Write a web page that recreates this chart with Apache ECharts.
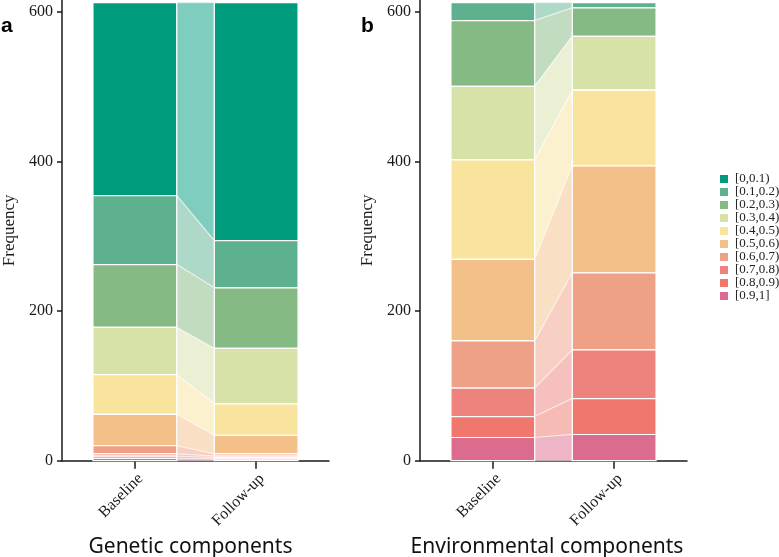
<!DOCTYPE html>
<html>
<head>
<meta charset="utf-8">
<script src="https://cdn.jsdelivr.net/npm/echarts@6/dist/echarts.min.js"></script>
<style>
html,body{margin:0;padding:0;background:#fff;}
#chart{width:779px;height:557px;}
</style>
</head>
<body>
<div id="chart"></div>
<script>
// ---- data ----
const bins = ['[0,0.1)','[0.1,0.2)','[0.2,0.3)','[0.3,0.4)','[0.4,0.5)','[0.5,0.6)','[0.6,0.7)','[0.7,0.8)','[0.8,0.9)','[0.9,1]'];
const timepoints = ['Baseline', 'Follow-up'];
const geneticBaseline = [258, 92, 84, 63, 53, 42, 11, 3, 3, 3];
const geneticFollowup = [318, 63, 81, 74, 42, 25, 3, 2, 2, 2];
const envBaseline = [0, 24, 88, 98, 133, 109, 63, 38, 28, 31];
const envFollowup = [0, 7, 38, 72, 101, 143, 103, 65, 48, 35];
const yTicks = [0, 200, 400, 600];
const panelTitles = ['Genetic components', 'Environmental components'];

const binColors = ['#009B7D','#5DB18F','#86BA85','#D7E2A9','#F9E49E','#F4C08A','#EFA187','#EE827D','#F0776D','#DC6C8E'];
const BAR_W = 0.69;
const SERIF = "'Liberation Serif', 'DejaVu Serif', serif";
const SANS = "'Noto Sans', 'Liberation Sans', sans-serif";

// cumulative stacking: [0.9,1] at the bottom, [0,0.1) on top
function stackBounds(vals) {
  const lo = new Array(vals.length), hi = new Array(vals.length);
  let acc = 0;
  for (let i = vals.length - 1; i >= 0; i--) {
    lo[i] = acc; acc += vals[i]; hi[i] = acc;
  }
  return { lo, hi };
}

function renderItem(params, api) {
  const lb = api.value(0), hb = api.value(1), lf = api.value(2), hf = api.value(3);
  const c = api.visual('color');
  const p = (x, y) => api.coord([x, y]);
  const x1l = 1 - BAR_W / 2, x1r = 1 + BAR_W / 2, x2l = 2 - BAR_W / 2, x2r = 2 + BAR_W / 2;
  const children = [];
  children.push({
    type: 'polygon',
    shape: { points: [p(x1r, hb), p(x2l, hf), p(x2l, lf), p(x1r, lb)] },
    style: { fill: c, opacity: 0.5, stroke: '#ffffff', lineWidth: 1.2 }
  });
  const rect = (xl, xr, lo, hi) => {
    const a = p(xl, hi), b = p(xr, lo);
    return { type: 'rect', shape: { x: a[0], y: a[1], width: b[0] - a[0], height: b[1] - a[1] },
      style: { fill: c, stroke: '#ffffff', lineWidth: 1.2 } };
  };
  if (hb > lb) children.push(rect(x1l, x1r, lb, hb));
  if (hf > lf) children.push(rect(x2l, x2r, lf, hf));
  return { type: 'group', children };
}

const panels = [
  { base: geneticBaseline, fol: geneticFollowup },
  { base: envBaseline, fol: envFollowup }
];

const series = [];
panels.forEach((pn, pi) => {
  const sb = stackBounds(pn.base), sf = stackBounds(pn.fol);
  bins.forEach((b, i) => {
    series.push({
      type: 'custom',
      name: b,
      xAxisIndex: pi, yAxisIndex: pi,
      itemStyle: { color: binColors[i] },
      encode: { x: 4, y: 1 },
      data: [[sb.lo[i], sb.hi[i], sf.lo[i], sf.hi[i], 1]],
      renderItem: renderItem,
      silent: true
    });
  });
});

function xAxisCfg(i, padRight) {
  return {
    type: 'value', gridIndex: i, min: 0.4, max: 2.6,
    splitLine: { show: false },
    axisLine: { show: true, onZero: false, lineStyle: { color: '#1a1a1a', width: 1.5 } },
    axisTick: { show: true, length: 8, customValues: [1, 2], lineStyle: { color: '#1a1a1a', width: 1.5 } },
    axisLabel: { customValues: [1, 2], formatter: v => timepoints[Math.round(v) - 1], rotate: 45, margin: 10,
      align: 'right', verticalAlign: 'top',
      fontFamily: SERIF, fontSize: 16, color: '#1a1a1a' },
    name: panelTitles[i], nameLocation: 'middle', nameGap: 70,
    nameTextStyle: { fontFamily: SANS, fontSize: 21, color: '#111', padding: [0, padRight, 0, 0] }
  };
}
function yAxisCfg(i) {
  return {
    type: 'value', gridIndex: i, min: 0, max: 615.5, interval: 200,
    splitLine: { show: false },
    axisLine: { show: true, lineStyle: { color: '#1a1a1a', width: 1.5 } },
    axisTick: { show: true, length: 5, customValues: yTicks, lineStyle: { color: '#1a1a1a', width: 1.5 } },
    axisLabel: { customValues: yTicks, margin: 9, fontFamily: SERIF, fontSize: 16, color: '#1a1a1a' },
    name: 'Frequency', nameLocation: 'middle', nameGap: 44,
    nameTextStyle: { fontFamily: SERIF, fontSize: 17, color: '#1a1a1a' }
  };
}

const chart = echarts.init(document.getElementById('chart'), null, { renderer: 'canvas' });
chart.setOption({
  animation: false,
  backgroundColor: '#ffffff',
  grid: [
    { left: 62, top: 0, width: 267, bottom: 96.3, containLabel: false, outerBoundsMode: 'none' },
    { left: 420, top: 0, width: 267, bottom: 96.3, containLabel: false, outerBoundsMode: 'none' }
  ],
  xAxis: [xAxisCfg(0, 10), xAxisCfg(1, 13)],
  yAxis: [yAxisCfg(0), yAxisCfg(1)],
  legend: {
    data: bins, orient: 'vertical', left: 715, top: 167.5,
    icon: 'rect', itemWidth: 8, itemHeight: 8, itemGap: 0,
    selectedMode: false,
    textStyle: { fontFamily: SERIF, fontSize: 13, color: '#222', lineHeight: 12.75, padding: [0, 0, 0, 2] }
  },
  graphic: [
    { type: 'text', left: 1, top: 16, style: { text: 'a', font: "bold 21px 'Liberation Sans', Arial, sans-serif", fill: '#000' } },
    { type: 'text', left: 361, top: 16, style: { text: 'b', font: "bold 21px 'Liberation Sans', Arial, sans-serif", fill: '#000' } }
  ],
  series: series
});
</script>
</body>
</html>
